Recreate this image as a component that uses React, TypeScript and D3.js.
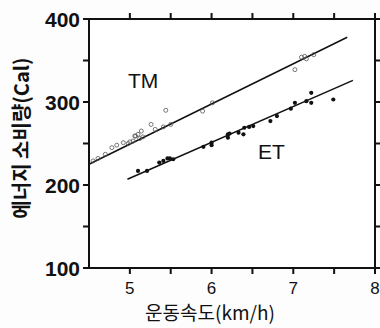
import React, { useRef, useEffect } from "react";
import * as d3 from "d3";

// TM (open circles): speed km/h, energy Cal
const tmSpeed = [4.55, 4.61, 4.7, 4.78, 4.84, 4.92, 4.98, 5.0, 5.04, 5.06, 5.07, 5.1, 5.12, 5.14, 5.16, 5.26, 5.31, 5.41, 5.44, 5.5, 5.89, 6.01, 7.02, 7.1, 7.14, 7.16, 7.25];
const tmEnergy = [229, 232, 237, 245, 248, 251, 250, 252, 253, 259, 259, 261, 256, 265, 258, 273, 267, 270, 290, 273, 289, 299, 339, 354, 355, 352, 357];

// ET (filled circles)
const etSpeed = [5.1, 5.21, 5.36, 5.41, 5.46, 5.49, 5.53, 5.9, 6.0, 6.0, 6.2, 6.2, 6.22, 6.33, 6.39, 6.4, 6.46, 6.51, 6.72, 6.8, 6.97, 7.02, 7.16, 7.22, 7.22, 7.49];
const etEnergy = [217, 217, 227, 229, 232, 232, 231, 246, 248, 251, 257, 261, 262, 263, 261, 269, 270, 271, 277, 283, 292, 299, 301, 311, 299, 303];

// fitted lines (endpoints)
const tmFitSpeed = [4.5, 7.66];
const tmFitEnergy = [225, 378];
const etFitSpeed = [4.97, 7.73];
const etFitEnergy = [207, 326];

const xTicks = [5, 6, 7, 8];
const xMinorTicks = [5, 5.5, 6, 6.5, 7, 7.5, 8];
const yTicks = [100, 200, 300, 400];
const yMinorTicks = [100, 150, 200, 250, 300, 350, 400];

const W = 380;
const H = 328;

const App = () => {
  const ref = useRef<SVGSVGElement>(null);

  useEffect(() => {
    const svg = d3.select(ref.current);
    svg.selectAll("*").remove();

    const left = 89, right = 375, top = 19, bottom = 268;
    const x = d3.scaleLinear().domain([4.5, 8]).range([left, right]);
    const y = d3.scaleLinear().domain([100, 400]).range([bottom, top]);
    const font = "Arial, 'Liberation Sans', sans-serif";
    const krFont = "'Noto Sans CJK KR', 'Noto Sans', sans-serif";

    svg.append("rect").attr("width", W).attr("height", H).attr("fill", "#fdfdfd");

    // frame
    svg
      .append("rect")
      .attr("x", left)
      .attr("y", top)
      .attr("width", right - left)
      .attr("height", bottom - top)
      .attr("fill", "#fff")
      .attr("stroke", "#111")
      .attr("stroke-width", 2);

    const tickLen = 6;
    const g = svg.append("g").attr("stroke", "#111").attr("stroke-width", 2);
    // left & right ticks
    yMinorTicks.forEach((t) => {
      g.append("line").attr("x1", left - tickLen).attr("x2", left).attr("y1", y(t)).attr("y2", y(t));
      g.append("line").attr("x1", right).attr("x2", right + tickLen).attr("y1", y(t)).attr("y2", y(t));
    });
    // top & bottom ticks
    xMinorTicks.forEach((t) => {
      g.append("line").attr("x1", x(t)).attr("x2", x(t)).attr("y1", top - tickLen).attr("y2", top);
      g.append("line").attr("x1", x(t)).attr("x2", x(t)).attr("y1", bottom).attr("y2", bottom + tickLen);
    });

    // y tick labels
    svg
      .append("g")
      .selectAll("text")
      .data(yTicks)
      .join("text")
      .attr("x", left - 9)
      .attr("y", (d) => y(d))
      .attr("dy", "0.36em")
      .attr("text-anchor", "end")
      .attr("font-family", font)
      .attr("font-weight", "bold")
      .attr("font-size", 21)
      .attr("fill", "#111")
      .text((d) => d);

    // x tick labels
    svg
      .append("g")
      .selectAll("text")
      .data(xTicks)
      .join("text")
      .attr("x", (d) => x(d))
      .attr("y", bottom + 26)
      .attr("text-anchor", "middle")
      .attr("font-family", font)
      .attr("font-size", 17)
      .attr("fill", "#111")
      .text((d) => d);

    // axis titles
    svg
      .append("text")
      .attr("transform", `translate(29, 138) rotate(-90)`)
      .attr("text-anchor", "middle")
      .attr("font-family", krFont)
      .attr("font-weight", "bold")
      .attr("font-size", 20)
      .attr("fill", "#111")
      .text("에너지 소비량(Cal)");

    svg
      .append("text")
      .attr("x", 210)
      .attr("y", 320)
      .attr("text-anchor", "middle")
      .attr("font-family", krFont)
      .attr("font-size", 19)
      .attr("fill", "#111")
      .text("운동속도(km/h)");

    // fit lines
    const line = d3
      .line<[number, number]>()
      .x((d) => x(d[0]))
      .y((d) => y(d[1]));
    const tmFit = tmFitSpeed.map((s, i) => [s, tmFitEnergy[i]] as [number, number]);
    const etFit = etFitSpeed.map((s, i) => [s, etFitEnergy[i]] as [number, number]);
    [tmFit, etFit].forEach((d) => {
      svg
        .append("path")
        .datum(d)
        .attr("d", line)
        .attr("fill", "none")
        .attr("stroke", "#111")
        .attr("stroke-width", 1.5);
    });

    // points
    svg
      .append("g")
      .selectAll("circle")
      .data(tmSpeed.map((s, i) => [s, tmEnergy[i]]))
      .join("circle")
      .attr("cx", (d) => x(d[0]))
      .attr("cy", (d) => y(d[1]))
      .attr("r", 2)
      .attr("fill", "none")
      .attr("stroke", "#555")
      .attr("stroke-width", 0.8);

    svg
      .append("g")
      .selectAll("circle")
      .data(etSpeed.map((s, i) => [s, etEnergy[i]]))
      .join("circle")
      .attr("cx", (d) => x(d[0]))
      .attr("cy", (d) => y(d[1]))
      .attr("r", 2.1)
      .attr("fill", "#111");

    // series labels
    svg
      .append("text")
      .attr("x", 128)
      .attr("y", 88)
      .attr("font-family", font)
      .attr("font-size", 21)
      .attr("fill", "#111")
      .text("TM");
    svg
      .append("text")
      .attr("x", 258)
      .attr("y", 159)
      .attr("font-family", font)
      .attr("font-size", 21)
      .attr("fill", "#111")
      .text("ET");
  }, []);

  return (
    <svg
      ref={ref}
      width={W}
      height={H}
      style={{ position: "absolute", left: 0, top: 0, display: "block" }}
    />
  );
};

export default App;
